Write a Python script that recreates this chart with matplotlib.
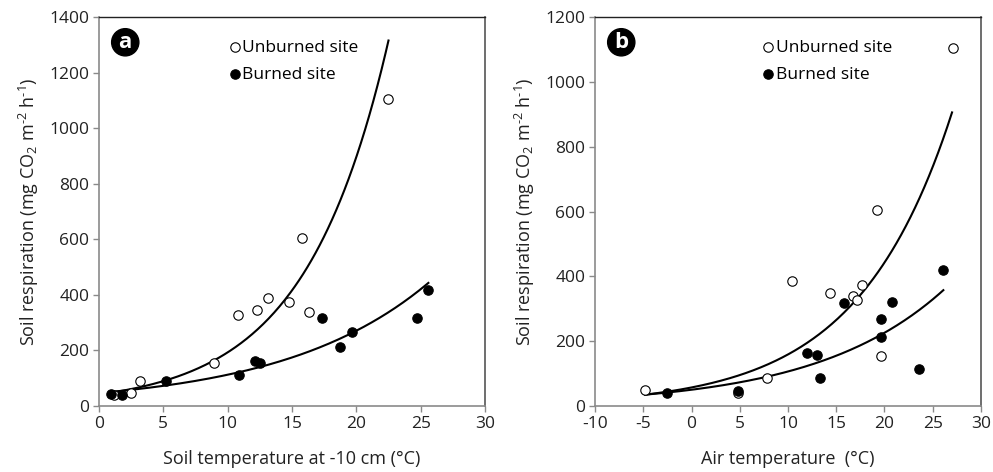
import numpy as np
import matplotlib
matplotlib.use("Agg")
import matplotlib.pyplot as plt

plt.rcParams["font.family"] = ["Open Sans", "DejaVu Sans"]
plt.rcParams["mathtext.default"] = "regular"
plt.rcParams["axes.unicode_minus"] = False

# --- Panel a: soil temperature at -10 cm ---
soil_t_unburned = [1.2, 2.5, 3.2, 8.9, 10.8, 12.3, 13.1, 14.8, 15.8, 16.3, 22.5]
soil_r_unburned = [38, 48, 89, 155, 327, 347, 387, 375, 605, 339, 1105]
soil_t_burned = [0.9, 1.8, 5.2, 10.9, 12.1, 12.5, 17.3, 18.7, 19.7, 24.7, 25.6]
soil_r_burned = [44, 38, 89, 113, 163, 156, 318, 212, 267, 316, 417]

# --- Panel b: air temperature ---
air_t_unburned = [-4.8, 4.8, 7.8, 10.4, 14.4, 16.7, 17.2, 17.7, 19.2, 19.6, 27.1]
air_r_unburned = [50, 40, 86, 386, 349, 339, 326, 374, 604, 155, 1104]
air_t_burned = [-2.5, 4.8, 12.0, 13.0, 13.3, 15.8, 19.6, 19.6, 20.8, 23.6, 26.1]
air_r_burned = [41, 46, 165, 157, 87, 318, 267, 213, 321, 113, 419]

# exponential fits y = a * exp(b * x), with x range drawn
soil_fit_unburned = (41.6, 0.1535, 1.2, 22.5)
soil_fit_burned = (46.8, 0.0878, 1.2, 25.6)
air_fit_unburned = (57.2, 0.1023, -4.8, 27.0)
air_fit_burned = (50.2, 0.0752, -4.8, 26.1)

GRAY = "#8a8a8a"
TXT = "#222222"


def style_axes(ax):
    for side in ["left", "bottom"]:
        ax.spines[side].set_color(GRAY)
        ax.spines[side].set_linewidth(1.2)
    ax.spines["top"].set_color("#222222")
    ax.spines["right"].set_color("#555555")
    ax.spines["top"].set_linewidth(1.0)
    ax.spines["right"].set_linewidth(1.2)
    ax.tick_params(axis="both", direction="out", length=4, width=1.0,
                   color=GRAY, labelsize=12.5, labelcolor=TXT, pad=3)
    ax.tick_params(top=False, right=False)


def draw_panel(ax, tu, ru, tb, rb, fit_u, fit_b, letter):
    for a, b, x0, x1 in (fit_u, fit_b):
        xs = np.linspace(x0, x1, 200)
        ax.plot(xs, a * np.exp(b * xs), color="black", lw=1.5, zorder=2)
    ax.scatter(tu, ru, s=46, facecolor="white", edgecolor="black",
               linewidth=0.8, zorder=3, label="Unburned site")
    ax.scatter(tb, rb, s=46, facecolor="black", edgecolor="black",
               linewidth=0.8, zorder=4, label="Burned site")
    ax.text(0.068, 0.935, letter, transform=ax.transAxes, ha="center",
            va="center", color="white", fontsize=16, fontweight="bold",
            bbox=dict(boxstyle="circle,pad=0.14", fc="black", ec="black"))
    style_axes(ax)


def add_legend(ax, x):
    ax.legend(loc="upper left", bbox_to_anchor=(x, 0.942), frameon=False,
              handlelength=0.6, handletextpad=0.15, labelspacing=0.62,
              borderaxespad=0, borderpad=0, fontsize=12.5, scatterpoints=1)


fig = plt.figure(figsize=(9.93, 4.72), dpi=100)
ax1 = fig.add_axes([0.0997, 0.1398, 0.3887, 0.8242])
ax2 = fig.add_axes([0.5992, 0.1398, 0.3887, 0.8242])

ylabel = "Soil respiration (mg CO$_2$ m$^{\u20102}$ h$^{\u20101}$)"

draw_panel(ax1, soil_t_unburned, soil_r_unburned, soil_t_burned, soil_r_burned,
           soil_fit_unburned, soil_fit_burned, "a")
ax1.set_xlim(0, 30)
ax1.set_ylim(0, 1400)
ax1.set_xticks(range(0, 31, 5))
ax1.set_yticks(range(0, 1401, 200))
ax1.set_xlabel("Soil temperature at -10 cm (°C)", fontsize=13, labelpad=13,
               color=TXT)
ax1.set_ylabel(ylabel, fontsize=13, labelpad=6, color=TXT)
add_legend(ax1, 0.338)

draw_panel(ax2, air_t_unburned, air_r_unburned, air_t_burned, air_r_burned,
           air_fit_unburned, air_fit_burned, "b")
ax2.set_xlim(-10, 30)
ax2.set_ylim(0, 1200)
ax2.set_xticks(range(-10, 31, 5))
ax2.set_yticks(range(0, 1201, 200))
ax2.set_xlabel("Air temperature  (°C)", fontsize=13, labelpad=13, color=TXT)
ax2.set_ylabel(ylabel, fontsize=13, labelpad=6, color=TXT)
add_legend(ax2, 0.435)

fig.savefig("out.png", dpi=100)
